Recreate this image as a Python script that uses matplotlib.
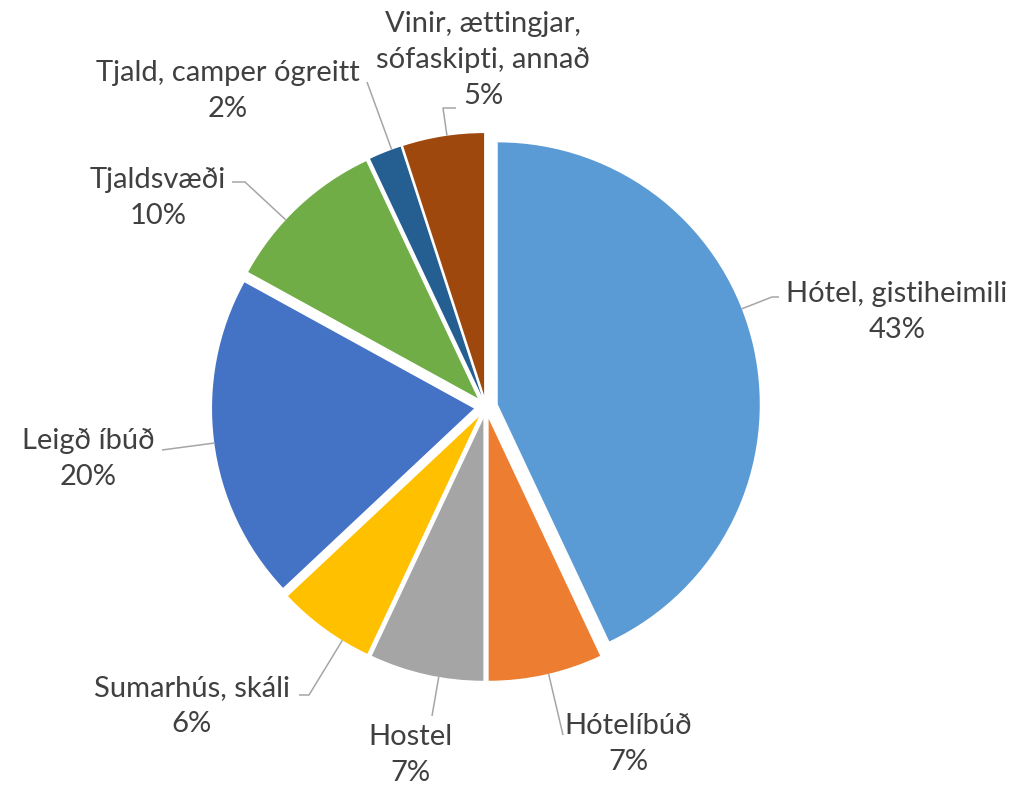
import numpy as np
import matplotlib.pyplot as plt

plt.rcParams["font.family"] = ["Lato", "DejaVu Sans"]

labels = [
    "Hótel, gistiheimili",
    "Hótelíbúð",
    "Hostel",
    "Sumarhús, skáli",
    "Leigð íbúð",
    "Tjaldsvæði",
    "Tjald, camper ógreitt",
    "Vinir, ættingjar,\nsófaskipti, annað",
]
shares = [43, 7, 7, 6, 20, 10, 2, 5]
colors = ["#5B9BD5", "#ED7D31", "#A5A5A5", "#FFC000",
          "#4472C4", "#70AD47", "#255E91", "#9E480E"]

# layout in image pixels (x from left, y from top)
W, H = 1015, 787
CX, CY, R = 486, 407, 262
text_pos = [(897, 312), (628, 744), (410, 755), (192, 706),
            (88, 459), (158, 198), (228, 91), (483, 60)]
elbows = [(772, 297), (563, 735), (432, 716), (309, 695),
          (162, 450), (245, 182), (367, 82), (443, 108)]
tails = [(779, 297), None, None, (299, 695),
         None, (232, 182), None, (456, 108)]

fig = plt.figure(figsize=(W / 100, H / 100), dpi=100)
ax = fig.add_axes([0, 0, 1, 1])

# explode is in data units here, so scale it by the radius
wedges, _ = ax.pie(
    shares,
    colors=colors,
    startangle=90,
    counterclock=False,
    radius=R,
    center=(CX, H - CY),
    explode=[0.046 * R] * len(shares),
    wedgeprops=dict(linewidth=0),
    frame=True,
)
ax.set_xlim(0, W)
ax.set_ylim(0, H)
ax.set_aspect("equal")
ax.axis("off")


def edge_point(w, px, py):
    # point on the wedge arc nearest to the leader line elbow
    cx, cy = w.center
    ang = np.degrees(np.arctan2(py - cy, px - cx))
    t1, t2 = w.theta1, w.theta2
    span = (t2 - t1) % 360
    rel = (ang - t1) % 360
    if rel > span:
        rel = span if (rel - span) < (360 - rel) else 0
    a = np.radians(t1 + rel)
    return cx + w.r * np.cos(a), cy + w.r * np.sin(a)


for w, lab, s, tp, el, tl in zip(wedges, labels, shares, text_pos, elbows, tails):
    ex, ey = el[0], H - el[1]
    sx, sy = edge_point(w, ex, ey)
    xs, ys = [sx, ex], [sy, ey]
    if tl is not None:
        xs.append(tl[0])
        ys.append(H - tl[1])
    ax.plot(xs, ys, color="#A6A6A6", linewidth=1.1, solid_capstyle="butt")
    ax.text(tp[0], H - tp[1], f"{lab}\n{s}%", ha="center", va="center",
            multialignment="center", fontsize=21, color="#404040",
            linespacing=1.45)

fig.savefig("out.png", dpi=100, facecolor="white")
